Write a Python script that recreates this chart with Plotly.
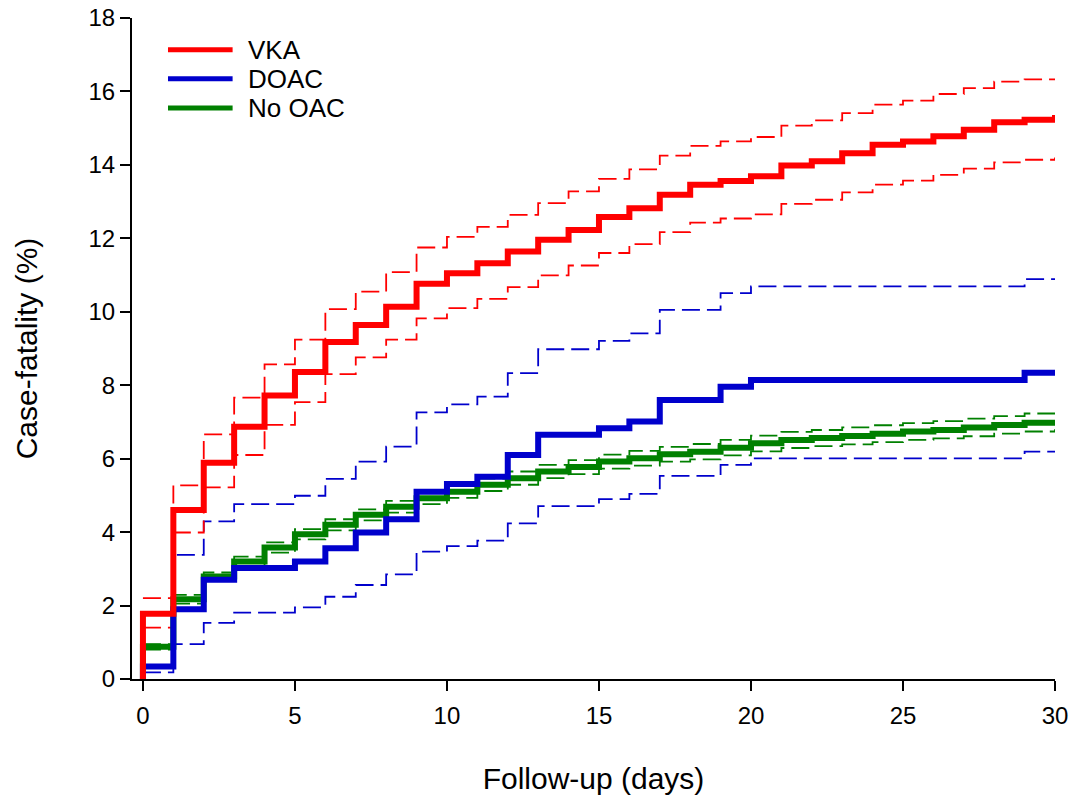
import plotly.graph_objects as go

days = list(range(0, 31))

vka = [1.78, 4.60, 5.89, 6.87, 7.72, 8.36, 9.18, 9.64, 10.14, 10.76, 11.05, 11.32, 11.64, 11.96, 12.23,
       12.58, 12.82, 13.19, 13.46, 13.56, 13.69, 13.98, 14.10, 14.32, 14.55, 14.64, 14.78, 14.96, 15.16, 15.23, 15.36]
vka_hi = [2.20, 5.27, 6.66, 7.66, 8.57, 9.24, 10.07, 10.55, 11.08, 11.75, 12.04, 12.31, 12.64, 12.96, 13.28,
          13.62, 13.88, 14.25, 14.52, 14.64, 14.76, 15.07, 15.21, 15.41, 15.64, 15.75, 15.93, 16.09, 16.27, 16.33, 16.33]
vka_lo = [1.40, 3.99, 5.22, 6.10, 6.92, 7.54, 8.30, 8.76, 9.24, 9.82, 10.10, 10.35, 10.67, 10.99, 11.26,
          11.60, 11.84, 12.17, 12.43, 12.54, 12.65, 12.94, 13.05, 13.25, 13.46, 13.57, 13.73, 13.90, 14.07, 14.14, 14.20]

doac = [0.34, 1.90, 2.70, 3.02, 3.02, 3.20, 3.56, 3.99, 4.35, 5.10, 5.31, 5.51, 6.10, 6.65, 6.65,
        6.83, 7.01, 7.60, 7.60, 7.96, 8.14, 8.14, 8.14, 8.14, 8.14, 8.14, 8.14, 8.14, 8.14, 8.34, 8.34]
doac_hi = [0.90, 3.38, 4.29, 4.76, 4.76, 4.99, 5.45, 5.92, 6.33, 7.26, 7.48, 7.69, 8.33, 8.98, 8.98,
           9.21, 9.41, 10.05, 10.05, 10.51, 10.69, 10.69, 10.69, 10.69, 10.69, 10.69, 10.69, 10.69, 10.69, 10.89, 10.89]
doac_lo = [0.18, 0.95, 1.53, 1.81, 1.81, 1.95, 2.24, 2.56, 2.85, 3.47, 3.62, 3.77, 4.24, 4.71, 4.71,
           4.90, 5.04, 5.53, 5.53, 5.83, 6.01, 6.01, 6.01, 6.01, 6.01, 6.01, 6.01, 6.01, 6.01, 6.19, 6.19]

nooac = [0.88, 2.17, 2.79, 3.20, 3.58, 3.94, 4.20, 4.47, 4.69, 4.92, 5.10, 5.29, 5.47, 5.65, 5.77,
         5.92, 6.01, 6.12, 6.19, 6.30, 6.42, 6.51, 6.56, 6.62, 6.68, 6.74, 6.78, 6.85, 6.92, 6.98, 7.04]
nooac_hi = [0.95, 2.29, 2.90, 3.33, 3.72, 4.08, 4.35, 4.62, 4.85, 5.08, 5.27, 5.46, 5.65, 5.83, 5.96,
            6.11, 6.21, 6.32, 6.40, 6.51, 6.63, 6.73, 6.78, 6.85, 6.91, 6.97, 7.02, 7.09, 7.16, 7.23, 7.28]
nooac_lo = [0.80, 2.05, 2.67, 3.07, 3.44, 3.80, 4.05, 4.32, 4.53, 4.76, 4.93, 5.12, 5.29, 5.47, 5.58,
            5.73, 5.81, 5.92, 5.98, 6.09, 6.20, 6.29, 6.34, 6.39, 6.45, 6.51, 6.55, 6.61, 6.68, 6.74, 6.80]

series_names = ["VKA", "DOAC", "No OAC"]
colors = {"VKA": "#ff0000", "DOAC": "#0000cc", "No OAC": "#008000"}
mains = {"VKA": vka, "DOAC": doac, "No OAC": nooac}
his = {"VKA": vka_hi, "DOAC": doac_hi, "No OAC": nooac_hi}
los = {"VKA": vka_lo, "DOAC": doac_lo, "No OAC": nooac_lo}

FONT = "Liberation Sans, Arial, sans-serif"
fig = go.Figure()

# confidence limits
for name in ["No OAC", "DOAC", "VKA"]:
    for arr in (his[name], los[name]):
        fig.add_trace(go.Scatter(
            x=days, y=arr, mode="lines", line_shape="hv",
            line=dict(color=colors[name], width=1.8, dash="18px,7px"),
            showlegend=False, hoverinfo="skip"))

# main estimates (start at 0 at day 0)
for name in ["No OAC", "DOAC", "VKA"]:
    fig.add_trace(go.Scatter(
        x=[0] + days, y=[0] + mains[name], mode="lines", line_shape="hv",
        line=dict(color=colors[name], width=6),
        name=name, showlegend=False))

# manual legend (long line symbols)
leg_y = [0.952, 0.908, 0.864]
for name, yy in zip(series_names, leg_y):
    fig.add_shape(type="line", xref="paper", yref="paper",
                  x0=0.039, x1=0.109, y0=yy, y1=yy,
                  line=dict(color=colors[name], width=5))
    fig.add_annotation(xref="paper", yref="paper", x=0.124, y=yy, text=name,
                       showarrow=False, xanchor="left", yanchor="middle",
                       font=dict(family=FONT, size=26, color="black"))

fig.update_layout(
    width=1075, height=802,
    margin=dict(l=132, r=20, t=18, b=123),
    paper_bgcolor="white", plot_bgcolor="white",
    font=dict(family=FONT, size=24, color="black"),
)
fig.update_xaxes(
    range=[-0.36, 30], tickvals=[0, 5, 10, 15, 20, 25, 30],
    showgrid=False, zeroline=False, showline=True, linecolor="black", linewidth=2,
    ticks="outside", ticklen=10, tickwidth=2, tickcolor="black",
    tickfont=dict(size=24), automargin=False, ticklabelstandoff=4,
    ticklabeloverflow="allow",
    title=dict(text="Follow-up (days)", font=dict(size=30), standoff=40),
)
fig.update_yaxes(
    range=[0, 18], tickvals=list(range(0, 19, 2)),
    showgrid=False, zeroline=False, showline=True, linecolor="black", linewidth=2,
    ticks="outside", ticklen=10, tickwidth=2, tickcolor="black",
    tickfont=dict(size=24), automargin=False, ticklabeloverflow="allow",
    title=dict(text="Case-fatality (%)", font=dict(size=30), standoff=42),
)

fig.write_html("out.html", config={"displayModeBar": False},
               post_script="document.body.style.margin='0';document.body.style.overflow='hidden';")
